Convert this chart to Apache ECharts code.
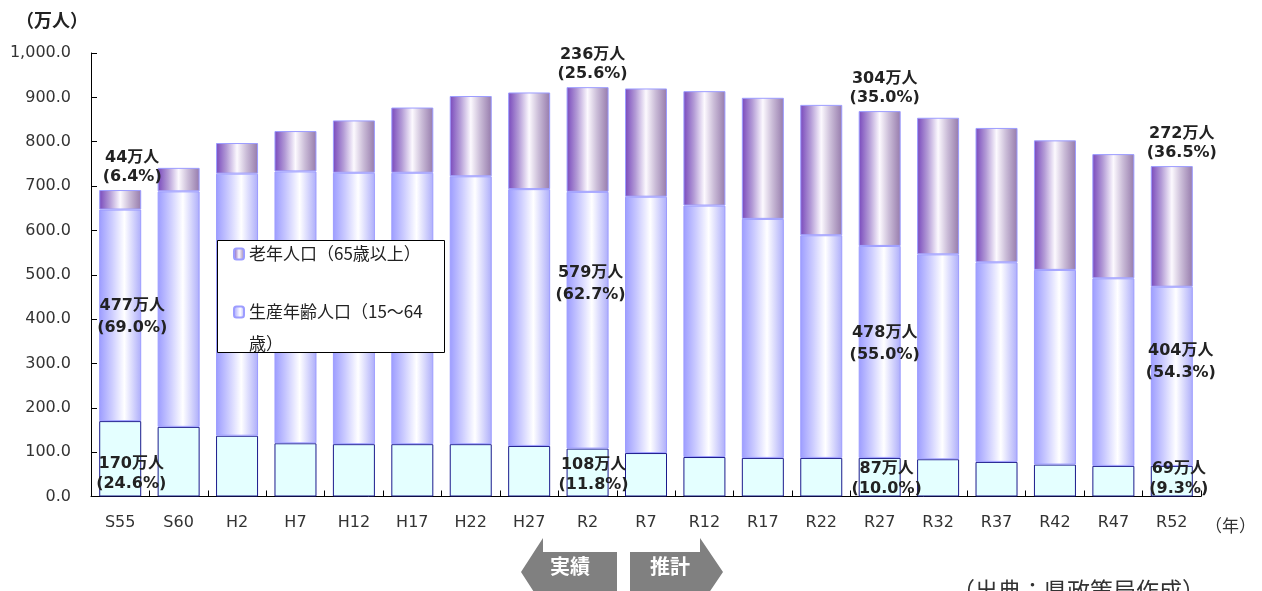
<!DOCTYPE html>
<html><head><meta charset="utf-8">
<script src="https://cdn.jsdelivr.net/npm/echarts@6/dist/echarts.min.js"></script>
<style>html,body{margin:0;padding:0;background:#fff}#c{width:1262px;height:591px}</style>
</head><body><div id="c"></div>
<script>
// ---- data ----
const categories = ['S55','S60','H2','H7','H12','H17','H22','H27','R2','R7','R12','R17','R22','R27','R32','R37','R42','R47','R52'];
const youngValues   = [170,157,137,120,118,118,118,114,108,98,89,87,87,87,84,78,72,69,69];
const workingValues = [477,531,591,613,612,612,604,579,579,578,567,539,502,478,462,450,439,423,404];
const elderlyValues = [44,53,69,91,118,147,181,218,236,244,258,273,294,304,308,303,292,280,272];
const yTickLabels = ['0.0','100.0','200.0','300.0','400.0','500.0','600.0','700.0','800.0','900.0','1,000.0'];
const labeledIndex = [0,8,13,18];
const elderlyPct = ['6.4','25.6','35.0','36.5'];
const workingPct = ['69.0','62.7','55.0','54.3'];
const youngPct   = ['24.6','11.8','10.0','9.3'];

const NAME_YOUNG = '年少人口（0～14歳）';
const NAME_WORK = '生産年齢人口（15～64歳）';
const NAME_OLD = '老年人口（65歳以上）';

// ---- layout constants (label offsets) ----
const elderlyOff = [[12,0],[5,0],[5,0],[10,0]];
const workingOff = [[12,2],[3,-36],[5,-8],[9,-14]];
const youngOff   = [[11,-3],[6,-2],[7,2],[7,2]];

const FONT = '"DejaVu Sans", "Noto Sans CJK JP", sans-serif';
const CJK = '"Noto Sans CJK JP", "DejaVu Sans", sans-serif';

function build(values, pct, off) {
  return values.map((v, i) => {
    const k = labeledIndex.indexOf(i);
    if (k < 0) return v;
    return { value: v, label: { show: true, formatter: v + '万人\n(' + pct[k] + '%)', offset: off[k] } };
  });
}
const labelBase = { show: false, fontSize: 16, fontWeight: 'bold', color: '#222', lineHeight: 20,
  fontFamily: FONT, textBorderWidth: 0 };

const chart = echarts.init(document.getElementById('c'));
chart.setOption({
  animation: false,
  backgroundColor: '#fff',
  grid: { left: 91, right: 61, top: 53, bottom: 94.5, containLabel: false },
  legend: {
    orient: 'vertical', left: 228, top: 240, padding: [4, 5, 4, 5], itemGap: 0,
    itemWidth: 10, itemHeight: 11, z: 10,
    selectedMode: false,
    textStyle: { fontSize: 17, color: '#222', fontFamily: CJK, lineHeight: 20 },
    data: [
      { name: NAME_OLD },
      { name: NAME_WORK, textStyle: { lineHeight: 32, fontSize: 17, fontFamily: CJK, color: '#222' } }
    ],
    formatter: n => n === NAME_WORK ? ' \n生産年齢人口（15～64\n歳）' : n
  },
  xAxis: {
    type: 'category', data: categories, boundaryGap: true,
    axisLine: { lineStyle: { color: '#000', width: 1 } },
    axisTick: { show: true, inside: true, length: 6, lineStyle: { color: '#000' }, interval: 0 },
    axisLabel: { interval: 0, margin: 18, fontSize: 16, color: '#333', fontFamily: FONT },
    splitLine: { show: false }
  },
  yAxis: {
    type: 'value', min: 0, max: 1000, interval: 100,
    axisLine: { show: true, lineStyle: { color: '#000', width: 1 } },
    axisTick: { show: true, inside: true, length: 6, lineStyle: { color: '#000' } },
    axisLabel: { margin: 20, fontSize: 16, color: '#333', fontFamily: FONT,
      formatter: v => yTickLabels[Math.round(v / 100)] },
    splitLine: { show: false }
  },
  series: [
    {
      name: NAME_YOUNG, type: 'bar', stack: 'total', barWidth: 42,
      data: build(youngValues, youngPct, youngOff),
      itemStyle: { color: '#e4ffff', borderColor: '#1a1a8c', borderWidth: 1 },
      label: Object.assign({}, labelBase, { position: 'insideBottom', distance: 0 }),
      emphasis: { disabled: true }
    },
    {
      name: NAME_WORK, type: 'bar', stack: 'total', barWidth: 42,
      data: build(workingValues, workingPct, workingOff),
      itemStyle: {
        color: new echarts.graphic.LinearGradient(0, 0, 1, 0, [
          { offset: 0, color: '#9c9cff' },
          { offset: 0.3, color: '#ccccff' },
          { offset: 0.6, color: '#ffffff' },
          { offset: 1, color: '#adadfa' }
        ]),
        borderColor: '#9c9cff', borderWidth: 1
      },
      label: Object.assign({}, labelBase, { position: 'inside', lineHeight: 22 }),
      emphasis: { disabled: true }
    },
    {
      name: NAME_OLD, type: 'bar', stack: 'total', barWidth: 42,
      data: build(elderlyValues, elderlyPct, elderlyOff),
      itemStyle: {
        color: new echarts.graphic.LinearGradient(0, 0, 1, 0, [
          { offset: 0, color: '#7848bc' },
          { offset: 0.25, color: '#b39bd6' },
          { offset: 0.5, color: '#fcf9fe' },
          { offset: 0.72, color: '#cbbdd8' },
          { offset: 1, color: '#957aab' }
        ]),
        borderColor: '#9c9cff', borderWidth: 1
      },
      label: Object.assign({}, labelBase, { position: 'top', distance: 4, lineHeight: 19 }),
      emphasis: { disabled: true }
    }
  ],
  graphic: [
    { type: 'rect', z: 3, shape: { x: 217.5, y: 240.5, width: 227, height: 112 },
      style: { fill: '#fff', stroke: '#000', lineWidth: 1 } },
    { type: 'text', left: 16, top: 11, z: 5,
      style: { text: '（万人）', fontSize: 18, fontWeight: 'bold', fill: '#222', fontFamily: CJK } },
    { type: 'text', left: 1205, top: 517, z: 5,
      style: { text: '（年）', fontSize: 17, fill: '#333', fontFamily: CJK } },
    { type: 'text', left: 952, top: 579, z: 5,
      style: { text: '（出典：県政策局作成）', fontSize: 23, fill: '#333', fontFamily: CJK } },
    { type: 'polygon', z: 5,
      shape: { points: [[617,552],[543,552],[543,538],[521,572],[543,606],[543,592],[617,592]] },
      style: { fill: '#808080' } },
    { type: 'polygon', z: 5,
      shape: { points: [[630,552],[700,552],[700,538],[723,572],[700,606],[700,592],[630,592]] },
      style: { fill: '#808080' } },
    { type: 'text', x: 570, y: 566, z: 6,
      style: { text: '実績', fontSize: 20, fontWeight: 'bold', fill: '#fff', fontFamily: CJK, align: 'center', verticalAlign: 'middle' } },
    { type: 'text', x: 670, y: 566, z: 6,
      style: { text: '推計', fontSize: 20, fontWeight: 'bold', fill: '#fff', fontFamily: CJK, align: 'center', verticalAlign: 'middle' } }
  ]
});
</script></body></html>
